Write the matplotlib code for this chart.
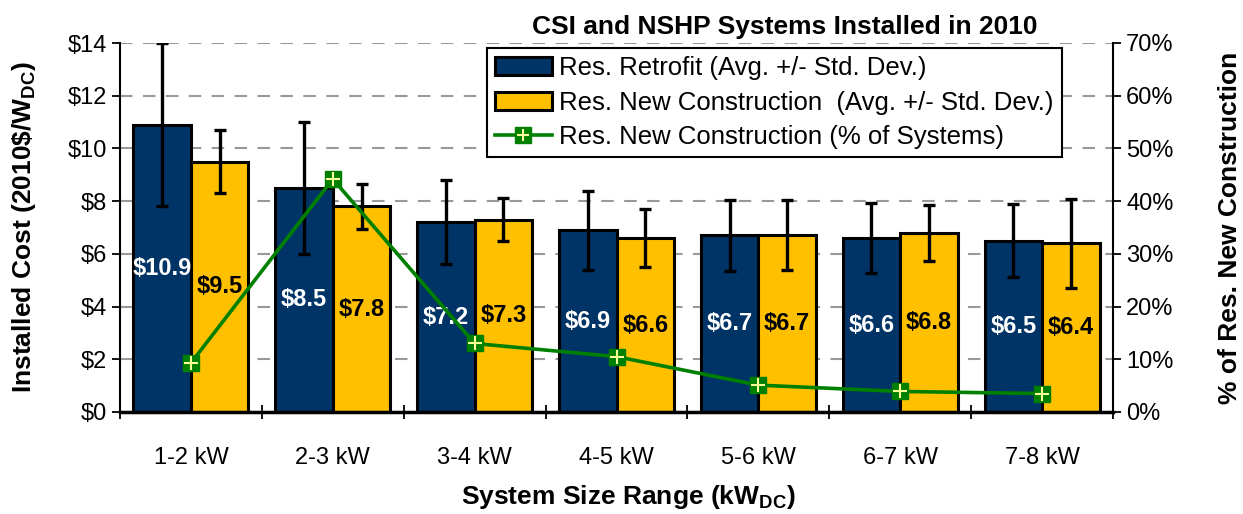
import matplotlib
matplotlib.use("Agg")
import matplotlib.pyplot as plt
import numpy as np
from matplotlib.patches import Patch
from matplotlib.lines import Line2D
from matplotlib.ticker import FuncFormatter, MultipleLocator

plt.rcParams['font.family'] = ['Liberation Sans', 'DejaVu Sans']
plt.rcParams['mathtext.fontset'] = 'custom'
plt.rcParams['mathtext.rm'] = 'Liberation Sans'
plt.rcParams['mathtext.bf'] = 'Liberation Sans:bold'

categories = ["1-2 kW", "2-3 kW", "3-4 kW", "4-5 kW", "5-6 kW", "6-7 kW", "7-8 kW"]
retrofit_avg = [10.9, 8.5, 7.2, 6.9, 6.7, 6.6, 6.5]
retrofit_std = [3.1, 2.5, 1.6, 1.5, 1.35, 1.33, 1.38]
newcon_avg = [9.5, 7.8, 7.3, 6.6, 6.7, 6.8, 6.4]
newcon_std = [1.2, 0.85, 0.83, 1.1, 1.33, 1.07, 1.68]
newcon_pct = [9.3, 44.2, 13.0, 10.5, 5.1, 3.9, 3.5]

navy = "#003366"
gold = "#FFC000"
green = "#008000"

fig = plt.figure(figsize=(12.43, 5.14), dpi=100)
ax = fig.add_axes([120/1243, 1-412/514, (1113-120)/1243, (412-43)/514])

x = np.arange(len(categories))
w = 0.405
ekw = dict(ecolor="black", elinewidth=2.4, capsize=4.5, capthick=2.4)
ax.bar(x - w/2, retrofit_avg, w, color=navy, edgecolor="black", linewidth=2.2,
       yerr=retrofit_std, error_kw=ekw, zorder=2)
ax.bar(x + w/2, newcon_avg, w, color=gold, edgecolor="black", linewidth=2.2,
       yerr=newcon_std, error_kw=ekw, zorder=2)

for xi, v in zip(x, retrofit_avg):
    ax.text(xi - w/2, v/2, f"${v:.1f}", ha="center", va="center", color="white",
            fontsize=17, fontweight="bold", zorder=3)
for xi, v in zip(x, newcon_avg):
    ax.text(xi + w/2, v/2, f"${v:.1f}", ha="center", va="center", color="black",
            fontsize=17, fontweight="bold", zorder=3)

ax.set_xlim(-0.5, len(categories) - 0.5)
ax.set_ylim(0, 14)
ax.yaxis.set_major_locator(MultipleLocator(2))
ax.yaxis.set_major_formatter(FuncFormatter(lambda v, p: f"${v:.0f}"))
ax.set_xticks(x)
ax.set_xticklabels(categories, fontsize=17)
ax.set_xticks(np.arange(len(categories) + 1) - 0.5, minor=True)
ax.tick_params(axis="x", which="major", length=0, pad=25)
ax.tick_params(axis="x", which="minor", length=10, direction="inout", width=1.3)
ax.tick_params(axis="y", labelsize=17, length=6, width=1.3, direction="out")
ax.grid(axis="y", color="#999999", linestyle=(0, (6, 5)), linewidth=1.5)
ax.set_axisbelow(True)
ax.spines["top"].set_visible(False)
ax.spines["right"].set_visible(False)
ax.spines["left"].set_linewidth(1.5)
ax.spines["bottom"].set_linewidth(2.5)

ax.set_ylabel("Installed Cost (2010\\$/W$_{\\mathbf{DC}}$)", fontsize=19, fontweight="bold")
ax.yaxis.set_label_coords((38 - 120) / 993, 0.5)
ax.set_xlabel("System Size Range (kW$_{\\mathbf{DC}}$)", fontsize=19, fontweight="bold")
ax.xaxis.set_label_coords((628 - 120) / 993, (412 - 483) / 369)

ax2 = ax.twinx()
ax2.set_ylim(0, 70)
ax2.yaxis.set_major_locator(MultipleLocator(10))
ax2.yaxis.set_major_formatter(FuncFormatter(lambda v, p: f"{v:.0f}%"))
ax2.tick_params(axis="y", labelsize=17, length=6, width=1.3, direction="out")
for s in ["top", "left", "bottom"]:
    ax2.spines[s].set_visible(False)
ax2.spines["right"].set_linewidth(1.5)
ax2.plot(x, newcon_pct, color=green, linewidth=2.6, marker="s", markersize=12,
         markerfacecolor=green, markeredgecolor=green, zorder=4)
ax2.plot(x, newcon_pct, linestyle="none", marker="+", markersize=10,
         markeredgecolor="#FFFF99", markeredgewidth=1.5, zorder=5)
ax2.set_ylabel("% of Res. New Construction", fontsize=19, fontweight="bold")
ax2.yaxis.set_label_coords((1218 - 120) / 993, 0.5)

mpct_line = Line2D([], [], color=green, linewidth=2.6, marker="s", markersize=11,
                   markerfacecolor=green, markeredgecolor=green)
mpct_plus = Line2D([], [], linestyle="none", marker="+", markersize=9,
                   markeredgecolor="#FFFF99", markeredgewidth=1.5)
handles = [Patch(facecolor=navy, edgecolor="black", linewidth=2.2),
           Patch(facecolor=gold, edgecolor="black", linewidth=2.2),
           (mpct_line, mpct_plus)]
labels = ["Res. Retrofit (Avg. +/- Std. Dev.)",
          "Res. New Construction  (Avg. +/- Std. Dev.)",
          "Res. New Construction (% of Systems)"]
leg = ax2.legend(handles, labels, loc="upper left", bbox_to_anchor=(0.37, 0.986),
                 borderaxespad=0, fontsize=18.5, frameon=True, fancybox=False,
                 edgecolor="black", framealpha=1, handlelength=2.2,
                 handletextpad=0.3, labelspacing=0.42, borderpad=0.3)
leg.get_frame().set_linewidth(1.5)

fig.text(532/1243, 1-27/514, "CSI and NSHP Systems Installed in 2010", ha="left",
         va="center", fontsize=19, fontweight="bold")

fig.savefig("out.png", dpi=100)
